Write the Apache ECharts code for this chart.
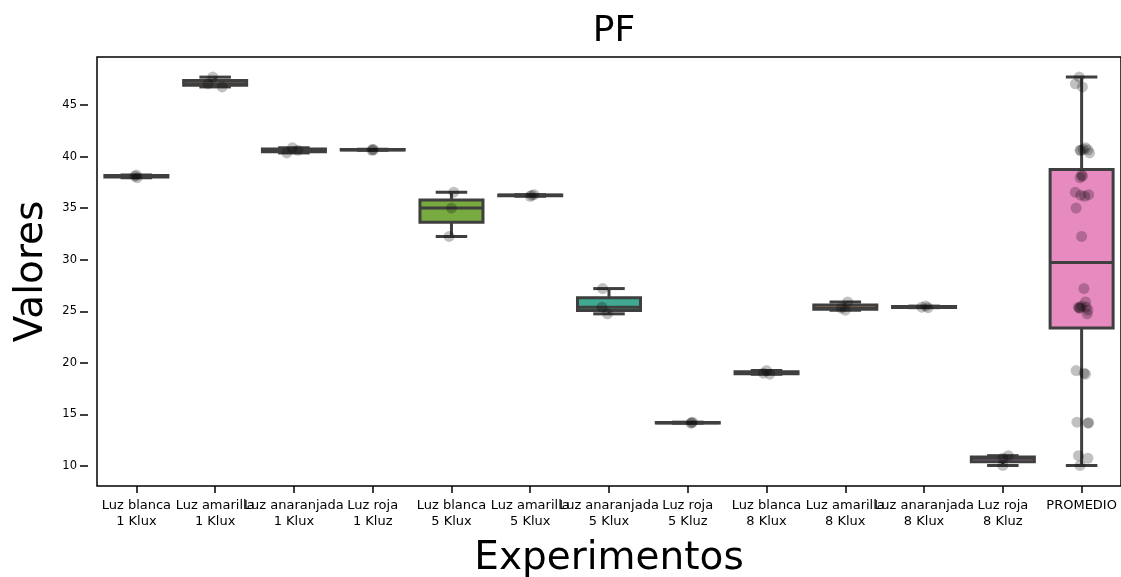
<!DOCTYPE html>
<html>
<head>
<meta charset="utf-8">
<script src="https://cdn.jsdelivr.net/npm/echarts@6/dist/echarts.min.js"></script>
<style>
  html, body { margin: 0; padding: 0; background: #fff; }
  #chart { width: 1121px; height: 577px; }
</style>
</head>
<body>
<div id="chart"></div>
<script>
// categories (x axis)
const categories = [
  'Luz blanca\n1 Klux', 'Luz amarilla\n1 Klux', 'Luz anaranjada\n1 Klux', 'Luz roja\n1 Kluz',
  'Luz blanca\n5 Klux', 'Luz amarilla\n5 Klux', 'Luz anaranjada\n5 Klux', 'Luz roja\n5 Kluz',
  'Luz blanca\n8 Klux', 'Luz amarilla\n8 Klux', 'Luz anaranjada\n8 Klux', 'Luz roja\n8 Kluz',
  'PROMEDIO'
];

const blanca1 = [38.2, 38.1, 37.95];
const amarilla1 = [47.7, 47.05, 46.75];
const anaranjada1 = [40.85, 40.6, 40.35];
const roja1 = [40.7, 40.65, 40.6];
const blanca5 = [36.55, 35.0, 32.25];
const amarilla5 = [36.3, 36.25, 36.15];
const anaranjada5 = [27.2, 25.4, 24.75];
const roja5 = [14.25, 14.2, 14.15];
const blanca8 = [19.25, 19.0, 18.9];
const amarilla8 = [25.9, 25.3, 25.1];
const anaranjada8 = [25.5, 25.4, 25.35];
const roja8 = [11.0, 10.75, 10.05];

const groups = [blanca1, amarilla1, anaranjada1, roja1, blanca5, amarilla5,
  anaranjada5, roja5, blanca8, amarilla8, anaranjada8, roja8];
// PROMEDIO pools every measurement
const promedio = [].concat(...groups);

// strip plot jitter (category units)
const jitterGroups = [
  [0.0, -0.02, 0.01], [-0.03, -0.09, 0.09], [-0.02, 0.05, -0.09], [0.0, 0.01, -0.01],
  [0.03, 0.0, -0.03], [0.05, 0.02, 0.0], [-0.08, -0.09, -0.02], [0.06, 0.05, 0.04],
  [0.0, -0.04, 0.04], [0.03, -0.05, 0.0], [0.02, -0.03, 0.05], [0.07, 0.0, 0.0]
];
const jitterPromedio = [
  0.0, 0.01, -0.02, -0.03, -0.08, 0.01, 0.05, -0.02, 0.1, 0.02, 0.08, -0.01,
  -0.08, -0.07, 0.0, 0.09, -0.01, 0.04, 0.03, -0.04, 0.07, -0.06, 0.09, 0.08,
  -0.07, 0.03, 0.05, 0.05, -0.03, 0.08, 0.0, 0.06, -0.02, -0.04, 0.08, -0.02
];

const yTicks = [10, 15, 20, 25, 30, 35, 40, 45];

const boxColors = ['#5aa48f', '#b48a6a', '#8c8fc0', '#d77fb3', '#78ab3f', '#d9b43a',
  '#40a991', '#888888', '#5aa48f', '#c98a5a', '#8c8fc0', '#a0709f', '#e68ac0'];
const edge = '#3f3f3f';
const font = 'DejaVu Sans';

// linear-interpolated quantile, same as numpy default
function quantile(arr, p) {
  const s = arr.slice().sort((a, b) => a - b);
  const h = (s.length - 1) * p;
  const lo = Math.floor(h);
  const e = h - lo;
  return e ? s[lo] + e * (s[lo + 1] - s[lo]) : s[lo];
}

function boxStats(arr, i) {
  const q1 = quantile(arr, 0.25), q3 = quantile(arr, 0.75);
  const iqr = q3 - q1;
  const inside = arr.filter(v => v >= q1 - 1.5 * iqr && v <= q3 + 1.5 * iqr);
  return [i, Math.min(...inside), q1, quantile(arr, 0.5), q3, Math.max(...inside)];
}

const allGroups = groups.concat([promedio]);
const boxData = allGroups.map((g, i) => boxStats(g, i));

const pointData = [];
groups.forEach((g, i) => g.forEach((v, k) => pointData.push([i + jitterGroups[i][k], v])));
promedio.forEach((v, k) => pointData.push([12 + jitterPromedio[k], v]));

const chart = echarts.init(document.getElementById('chart'));

const option = {
  animation: false,
  title: {
    text: 'PF',
    left: 609,
    textAlign: 'center',
    top: 9,
    textStyle: { fontFamily: font, fontSize: 36, fontWeight: 'normal', color: '#000' }
  },
  grid: {
    left: 97,
    right: 0,
    top: 57,
    bottom: 91,
    outerBoundsMode: 'none',
    show: true,
    borderColor: '#000',
    borderWidth: 1.5,
    backgroundColor: 'transparent'
  },
  xAxis: [
    {
      type: 'category',
      data: categories,
      boundaryGap: true,
      name: 'Experimentos',
      nameLocation: 'middle',
      nameGap: 53,
      nameTextStyle: { fontFamily: font, fontSize: 39, color: '#000' },
      axisLine: { show: false, onZero: false },
      axisTick: { show: true, alignWithLabel: true, length: 7, lineStyle: { color: '#000', width: 1.5 } },
      axisLabel: { interval: 0, fontFamily: font, fontSize: 13, lineHeight: 16, color: '#000', margin: 12 },
      splitLine: { show: false }
    },
    {
      type: 'value',
      min: -0.5,
      max: 12.5,
      show: false
    }
  ],
  yAxis: {
    type: 'value',
    position: 'left',
    min: 8.06,
    max: 49.65,
    offset: 9,
    name: 'Valores',
    nameLocation: 'middle',
    nameGap: 35,
    nameTextStyle: { fontFamily: font, fontSize: 39, color: '#000' },
    axisLine: { show: false, onZero: false },
    axisTick: { show: true, length: 8, customValues: yTicks, lineStyle: { color: '#000', width: 1.5 } },
    axisLabel: { customValues: yTicks, fontFamily: font, fontSize: 11.5, color: '#000', margin: 11 },
    splitLine: { show: false }
  },
  series: [
    {
      type: 'custom',
      xAxisIndex: 1,
      data: boxData,
      z: 2,
      renderItem: function (params, api) {
        const x = api.value(0);
        const lo = api.coord([x, api.value(1)]);
        const q1 = api.coord([x, api.value(2)]);
        const md = api.coord([x, api.value(3)]);
        const q3 = api.coord([x, api.value(4)]);
        const hi = api.coord([x, api.value(5)]);
        const w = api.size([0.8, 0])[0];
        const cx = lo[0];
        const ls = { stroke: edge, lineWidth: 3 };
        return {
          type: 'group',
          children: [
            { type: 'line', shape: { x1: cx, y1: lo[1], x2: cx, y2: q1[1] }, style: ls },
            { type: 'line', shape: { x1: cx, y1: q3[1], x2: cx, y2: hi[1] }, style: ls },
            { type: 'line', shape: { x1: cx - w / 4, y1: lo[1], x2: cx + w / 4, y2: lo[1] }, style: ls },
            { type: 'line', shape: { x1: cx - w / 4, y1: hi[1], x2: cx + w / 4, y2: hi[1] }, style: ls },
            {
              type: 'rect',
              shape: { x: cx - w / 2, y: q3[1], width: w, height: q1[1] - q3[1] },
              style: { fill: boxColors[params.dataIndex], stroke: edge, lineWidth: 3 }
            },
            { type: 'line', shape: { x1: cx - w / 2, y1: md[1], x2: cx + w / 2, y2: md[1] }, style: ls }
          ]
        };
      }
    },
    {
      type: 'scatter',
      xAxisIndex: 1,
      data: pointData,
      symbol: 'circle',
      symbolSize: 11,
      z: 5,
      itemStyle: { color: 'rgba(0,0,0,0.3)' },
      silent: true
    }
  ]
};

chart.setOption(option);
</script>
</body>
</html>
